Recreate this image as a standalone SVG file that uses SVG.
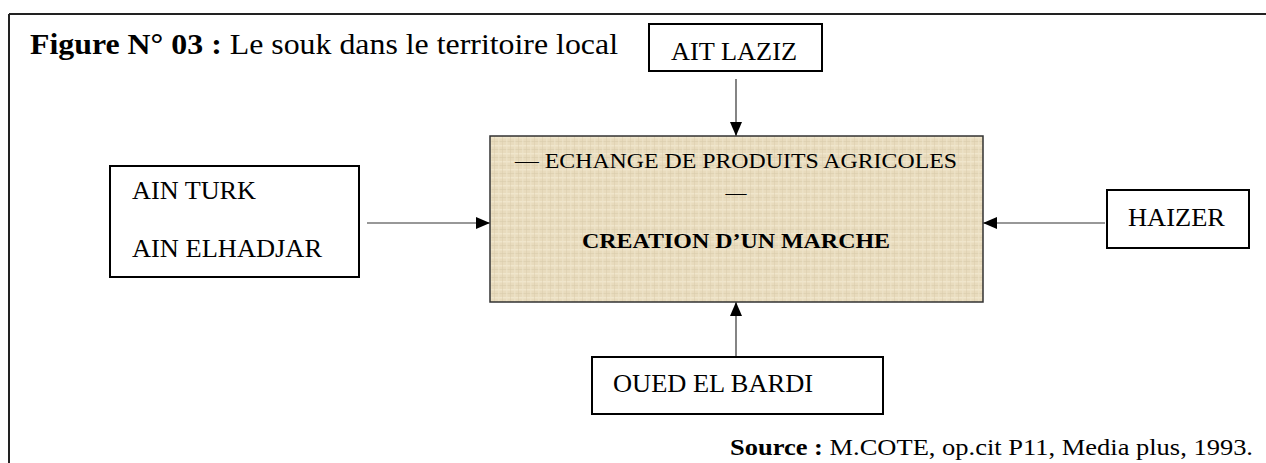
<svg xmlns="http://www.w3.org/2000/svg" width="1266" height="463" viewBox="0 0 1266 463">
<style>
.box{fill:#fff;stroke:#000;stroke-width:2}
.lbl{font-family:"Liberation Serif","Times New Roman",serif;font-size:26px;fill:#000}
.ctr{font-family:"Liberation Serif","Times New Roman",serif;font-size:21px;fill:#000}
.conn{stroke:#333;stroke-width:1.2;fill:none;marker-end:url(#arr)}
</style>
<defs>
<marker id="arr" markerWidth="14" markerHeight="12" refX="14" refY="6" orient="auto" markerUnits="userSpaceOnUse">
<path d="M0,0 L14,6 L0,12 Z" fill="#000"/>
</marker>
<pattern id="burlap" width="8" height="8" patternUnits="userSpaceOnUse">
<rect width="8" height="8" fill="#e8dbbd"/>
<rect x="0" y="1" width="8" height="1.5" fill="#f2e8d0" opacity="0.8"/>
<rect x="0" y="5" width="8" height="1" fill="#dccfb0" opacity="0.7"/>
<rect x="2" y="0" width="1.5" height="8" fill="#efe4cb" opacity="0.6"/>
<rect x="6" y="0" width="1" height="8" fill="#d9cbac" opacity="0.5"/>
</pattern>
</defs>
<g id="frame">
<line x1="9" y1="14" x2="1266" y2="14" stroke="#222" stroke-width="2"/>
<line x1="9" y1="14" x2="9" y2="463" stroke="#222" stroke-width="2"/>
</g>
<text id="title" x="30" y="54" font-family="Liberation Serif,'Times New Roman',serif" font-size="30" textLength="588" lengthAdjust="spacingAndGlyphs"><tspan font-weight="bold">Figure N° 03 :</tspan> Le souk dans le territoire local</text>
<g id="connectors">
<line class="conn" x1="736" y1="79" x2="736" y2="136"/>
<line class="conn" x1="367" y1="223" x2="490" y2="223"/>
<line class="conn" x1="1105" y1="223" x2="983" y2="223"/>
<line class="conn" x1="736" y1="357" x2="736" y2="302"/>
</g>
<g id="souk">
<rect x="490" y="136" width="493" height="166" fill="url(#burlap)" stroke="#333" stroke-width="1.5"/>
<text class="ctr" x="515" y="168" textLength="442" lengthAdjust="spacingAndGlyphs">— ECHANGE DE PRODUITS AGRICOLES</text>
<text class="ctr" x="736" y="200" text-anchor="middle">—</text>
<text class="ctr" x="582" y="248" font-weight="bold" textLength="308" lengthAdjust="spacingAndGlyphs">CREATION D’UN MARCHE</text>
</g>
<g id="ait-laziz">
<rect class="box" x="649" y="24" width="173" height="47"/>
<text class="lbl" x="671" y="60" textLength="126" lengthAdjust="spacingAndGlyphs">AIT LAZIZ</text>
</g>
<g id="ain-turk">
<rect class="box" x="110" y="166" width="249" height="111"/>
<text class="lbl" x="132" y="199" textLength="124" lengthAdjust="spacingAndGlyphs">AIN TURK</text>
<text class="lbl" x="132" y="257" textLength="190" lengthAdjust="spacingAndGlyphs">AIN ELHADJAR</text>
</g>
<g id="haizer">
<rect class="box" x="1107" y="190" width="142" height="58"/>
<text class="lbl" x="1128" y="226" textLength="97" lengthAdjust="spacingAndGlyphs">HAIZER</text>
</g>
<g id="oued-el-bardi">
<rect class="box" x="592" y="357" width="291" height="57"/>
<text class="lbl" x="613" y="392" textLength="200" lengthAdjust="spacingAndGlyphs">OUED EL BARDI</text>
</g>
<text id="source" x="730" y="455" font-family="Liberation Serif,'Times New Roman',serif" font-size="24" textLength="523" lengthAdjust="spacingAndGlyphs"><tspan font-weight="bold">Source :</tspan> M.COTE, op.cit P11, Media plus, 1993.</text>
</svg>
